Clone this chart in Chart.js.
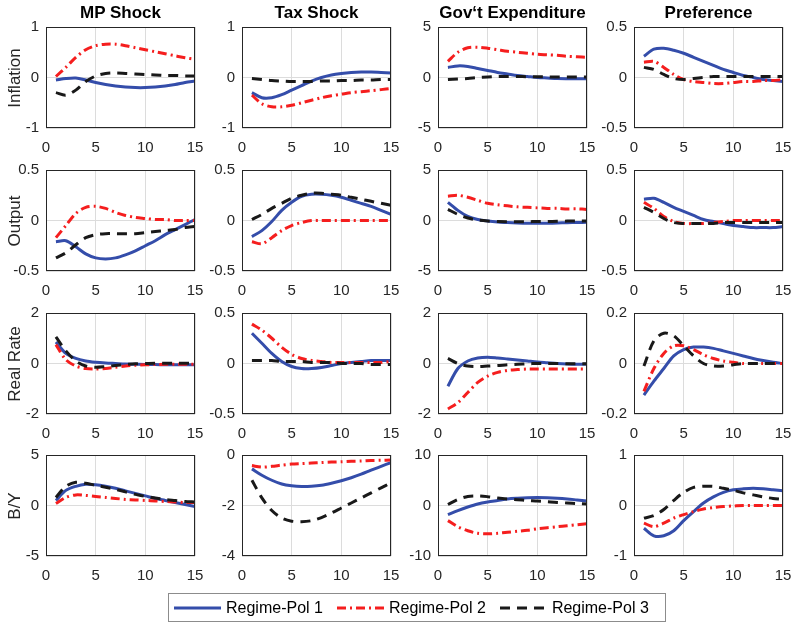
<!DOCTYPE html>
<html>
<head>
<meta charset="utf-8">
<script src="https://cdn.jsdelivr.net/npm/chart.js@4.4.1/dist/chart.umd.min.js"></script>
<style>
  body { margin: 0; background: #fff; }
  #fig { position: relative; width: 792px; height: 623px; overflow: hidden; font-family: "Liberation Sans", Arial, sans-serif; color: #262626; }
  #fig canvas { position: absolute; }
  .col-title { position: absolute; top: 3px; width: 149px; text-align: center; font-weight: bold; font-size: 17px; line-height: 20px; color: #000; }
  .row-label { position: absolute; width: 120px; height: 20px; line-height: 20px; text-align: center; font-size: 17px; transform: rotate(-90deg); white-space: nowrap; }
  #legend { position: absolute; left: 168px; top: 593px; width: 491px; height: 27px; border: 1px solid #8c8c8c; display: flex; align-items: center; padding-left: 5px; box-sizing: content-box; font-size: 16px; color: #000; }
  #legend .item { display: flex; align-items: center; margin-right: 14px; }
  #legend svg { margin-right: 5px; }
</style>
</head>
<body>
<div id="fig"></div>
<script>
const steps = [1, 2, 3, 4, 5, 6, 7, 8, 9, 10, 11, 12, 13, 14, 15];
const xTicks = [0, 5, 10, 15];
const shocks = ['MP Shock', 'Tax Shock', 'Gov\u2018t Expenditure', 'Preference'];
const variables = ['Inflation', 'Output', 'Real Rate', 'B/Y'];
const regimes = ['Regime-Pol 1', 'Regime-Pol 2', 'Regime-Pol 3'];

// y tick labels, one list per panel, row by row
const inflationTicks = [[-1, 0, 1], [-1, 0, 1], [-5, 0, 5], [-0.5, 0, 0.5]];
const outputTicks = [[-0.5, 0, 0.5], [-0.5, 0, 0.5], [-5, 0, 5], [-0.5, 0, 0.5]];
const realRateTicks = [[-2, 0, 2], [-0.5, 0, 0.5], [-2, 0, 2], [-0.2, 0, 0.2]];
const byTicks = [[-5, 0, 5], [-4, -2, 0], [-10, 0, 10], [-1, 0, 1]];

// Inflation
const inflMp1 = [-0.05, -0.02, -0.01, -0.05, -0.1, -0.14, -0.17, -0.19, -0.2, -0.2, -0.19, -0.17, -0.14, -0.1, -0.07];
const inflMp2 = [0.02, 0.2, 0.4, 0.55, 0.63, 0.66, 0.66, 0.63, 0.59, 0.55, 0.51, 0.47, 0.43, 0.39, 0.36];
const inflMp3 = [-0.3, -0.35, -0.25, -0.08, 0.03, 0.08, 0.09, 0.08, 0.07, 0.06, 0.05, 0.04, 0.04, 0.03, 0.03];
const inflTax1 = [-0.3, -0.4, -0.4, -0.34, -0.25, -0.16, -0.07, 0.0, 0.05, 0.08, 0.1, 0.11, 0.11, 0.1, 0.09];
const inflTax2 = [-0.35, -0.52, -0.58, -0.58, -0.55, -0.5, -0.45, -0.4, -0.36, -0.33, -0.3, -0.28, -0.26, -0.24, -0.22];
const inflTax3 = [-0.02, -0.04, -0.06, -0.07, -0.08, -0.08, -0.08, -0.07, -0.07, -0.06, -0.06, -0.05, -0.05, -0.04, -0.04];
const inflGov1 = [1.0, 1.15, 1.1, 0.9, 0.7, 0.5, 0.35, 0.2, 0.1, 0.0, -0.05, -0.1, -0.12, -0.13, -0.13];
const inflGov2 = [1.6, 2.5, 2.95, 3.0, 2.9, 2.75, 2.6, 2.5, 2.4, 2.3, 2.25, 2.2, 2.1, 2.05, 2.0];
const inflGov3 = [-0.2, -0.15, -0.1, 0.0, 0.05, 0.1, 0.1, 0.1, 0.08, 0.07, 0.06, 0.05, 0.05, 0.05, 0.05];
const inflPref1 = [0.21, 0.28, 0.29, 0.27, 0.24, 0.2, 0.16, 0.12, 0.08, 0.05, 0.02, 0.0, -0.02, -0.03, -0.04];
const inflPref2 = [0.15, 0.16, 0.1, 0.03, -0.02, -0.04, -0.05, -0.06, -0.06, -0.05, -0.04, -0.04, -0.03, -0.03, -0.02];
const inflPref3 = [0.1, 0.08, 0.03, -0.01, -0.02, -0.01, 0.0, 0.01, 0.01, 0.01, 0.01, 0.01, 0.01, 0.01, 0.01];

// Output
const outMp1 = [-0.21, -0.2, -0.26, -0.33, -0.37, -0.38, -0.37, -0.34, -0.3, -0.25, -0.2, -0.14, -0.09, -0.04, 0.01];
const outMp2 = [-0.17, -0.05, 0.07, 0.13, 0.14, 0.12, 0.08, 0.05, 0.03, 0.02, 0.01, 0.01, 0.0, 0.0, 0.0];
const outMp3 = [-0.37, -0.32, -0.24, -0.17, -0.14, -0.13, -0.13, -0.13, -0.13, -0.12, -0.11, -0.1, -0.09, -0.07, -0.06];
const outTax1 = [-0.16, -0.1, -0.01, 0.1, 0.18, 0.24, 0.26, 0.26, 0.25, 0.23, 0.2, 0.17, 0.14, 0.1, 0.06];
const outTax2 = [-0.21, -0.23, -0.17, -0.1, -0.05, -0.02, 0.0, 0.0, 0.0, 0.0, 0.0, 0.0, 0.0, 0.0, 0.0];
const outTax3 = [0.01, 0.06, 0.12, 0.17, 0.22, 0.25, 0.27, 0.27, 0.26, 0.25, 0.23, 0.21, 0.19, 0.17, 0.15];
const outGov1 = [1.8, 1.0, 0.4, 0.1, -0.05, -0.15, -0.2, -0.25, -0.28, -0.28, -0.27, -0.25, -0.22, -0.2, -0.18];
const outGov2 = [2.4, 2.5, 2.3, 2.0, 1.7, 1.55, 1.45, 1.35, 1.3, 1.25, 1.2, 1.2, 1.15, 1.15, 1.1];
const outGov3 = [1.1, 0.6, 0.25, 0.05, -0.05, -0.1, -0.12, -0.12, -0.12, -0.1, -0.1, -0.08, -0.06, -0.05, -0.05];
const outPref1 = [0.21, 0.22, 0.18, 0.13, 0.09, 0.05, 0.01, -0.01, -0.03, -0.05, -0.06, -0.07, -0.07, -0.07, -0.06];
const outPref2 = [0.18, 0.12, 0.04, -0.01, -0.03, -0.03, -0.03, -0.02, -0.01, 0.0, 0.0, 0.0, 0.0, 0.0, 0.0];
const outPref3 = [0.13, 0.08, 0.02, -0.02, -0.03, -0.03, -0.03, -0.03, -0.02, -0.02, -0.02, -0.02, -0.02, -0.02, -0.02];

// Real Rate
const rrMp1 = [0.85, 0.4, 0.2, 0.1, 0.05, 0.02, 0.0, -0.02, -0.03, -0.04, -0.04, -0.05, -0.05, -0.05, -0.05];
const rrMp2 = [0.75, 0.15, -0.1, -0.2, -0.22, -0.2, -0.15, -0.1, -0.07, -0.05, -0.04, -0.03, -0.03, -0.03, -0.03];
const rrMp3 = [1.05, 0.5, 0.1, -0.1, -0.15, -0.12, -0.08, -0.04, -0.01, 0.0, 0.01, 0.01, 0.01, 0.01, 0.01];
const rrTax1 = [0.3, 0.2, 0.1, 0.02, -0.03, -0.05, -0.05, -0.04, -0.02, 0.0, 0.01, 0.02, 0.03, 0.03, 0.03];
const rrTax2 = [0.39, 0.33, 0.25, 0.16, 0.09, 0.05, 0.03, 0.02, 0.01, 0.01, 0.01, 0.01, 0.01, 0.01, 0.02];
const rrTax3 = [0.03, 0.03, 0.03, 0.02, 0.02, 0.02, 0.01, 0.01, 0.01, 0.0, 0.0, 0.0, -0.01, -0.01, -0.01];
const rrGov1 = [-0.9, -0.2, 0.1, 0.22, 0.25, 0.22, 0.18, 0.14, 0.1, 0.06, 0.03, 0.0, -0.02, -0.03, -0.03];
const rrGov2 = [-1.8, -1.55, -1.15, -0.75, -0.5, -0.35, -0.27, -0.24, -0.22, -0.22, -0.22, -0.22, -0.22, -0.22, -0.22];
const rrGov3 = [0.2, 0.0, -0.1, -0.12, -0.1, -0.08, -0.05, -0.03, -0.01, 0.0, 0.0, 0.0, -0.01, -0.01, -0.01];
const rrPref1 = [-0.125, -0.07, -0.02, 0.03, 0.055, 0.065, 0.065, 0.06, 0.05, 0.04, 0.03, 0.02, 0.012, 0.005, 0.0];
const rrPref2 = [-0.11, -0.02, 0.04, 0.07, 0.07, 0.055, 0.035, 0.02, 0.01, 0.005, 0.0, 0.0, 0.0, 0.0, 0.0];
const rrPref3 = [-0.01, 0.09, 0.12, 0.11, 0.07, 0.03, 0.0, -0.01, -0.01, -0.005, 0.0, 0.0, 0.0, 0.0, 0.0];

// B/Y
const byMp1 = [0.5, 1.5, 1.9, 2.1, 2.05, 1.9, 1.7, 1.45, 1.2, 0.95, 0.7, 0.5, 0.3, 0.1, -0.1];
const byMp2 = [0.2, 0.8, 1.05, 1.0, 0.9, 0.8, 0.7, 0.6, 0.55, 0.5, 0.45, 0.4, 0.35, 0.3, 0.3];
const byMp3 = [0.8, 1.9, 2.3, 2.2, 2.0, 1.8, 1.6, 1.35, 1.1, 0.9, 0.75, 0.6, 0.5, 0.4, 0.35];
const byTax1 = [-0.55, -0.8, -1.0, -1.15, -1.22, -1.25, -1.24, -1.2, -1.12, -1.02, -0.9, -0.76, -0.6, -0.45, -0.3];
const byTax2 = [-0.42, -0.48, -0.45, -0.4, -0.36, -0.34, -0.32, -0.3, -0.28, -0.27, -0.25, -0.24, -0.22, -0.21, -0.2];
const byTax3 = [-1.0, -1.7, -2.2, -2.5, -2.62, -2.64, -2.6, -2.48, -2.3, -2.1, -1.9, -1.7, -1.5, -1.3, -1.1];
const byGov1 = [-1.8, -1.0, -0.3, 0.3, 0.7, 1.0, 1.3, 1.45, 1.55, 1.6, 1.55, 1.45, 1.3, 1.1, 0.9];
const byGov2 = [-3.0, -4.2, -5.0, -5.5, -5.6, -5.5, -5.3, -5.1, -4.9, -4.6, -4.4, -4.2, -4.0, -3.8, -3.6];
const byGov3 = [0.2, 1.2, 1.8, 1.9, 1.75, 1.5, 1.3, 1.15, 1.0, 0.9, 0.75, 0.6, 0.5, 0.4, 0.3];
const byPref1 = [-0.45, -0.6, -0.6, -0.5, -0.3, -0.12, 0.05, 0.17, 0.26, 0.31, 0.33, 0.34, 0.33, 0.31, 0.29];
const byPref2 = [-0.35, -0.42, -0.35, -0.25, -0.18, -0.12, -0.07, -0.04, -0.02, -0.01, 0.0, 0.0, 0.0, 0.0, 0.0];
const byPref3 = [-0.25, -0.2, -0.08, 0.1, 0.26, 0.36, 0.38, 0.38, 0.34, 0.3, 0.25, 0.21, 0.17, 0.14, 0.12];

const panels = [
    [[inflMp1, inflMp2, inflMp3], [inflTax1, inflTax2, inflTax3], [inflGov1, inflGov2, inflGov3], [inflPref1, inflPref2, inflPref3]],
    [[outMp1, outMp2, outMp3], [outTax1, outTax2, outTax3], [outGov1, outGov2, outGov3], [outPref1, outPref2, outPref3]],
    [[rrMp1, rrMp2, rrMp3], [rrTax1, rrTax2, rrTax3], [rrGov1, rrGov2, rrGov3], [rrPref1, rrPref2, rrPref3]],
    [[byMp1, byMp2, byMp3], [byTax1, byTax2, byTax3], [byGov1, byGov2, byGov3], [byPref1, byPref2, byPref3]]
];
const rowTicks = [inflationTicks, outputTicks, realRateTicks, byTicks];

const colors = ['rgb(52, 77, 170)', 'rgb(245, 30, 30)', 'rgb(25, 25, 25)'];
const dashes = [[], [9, 4, 2, 4], [10, 7]];

const plotLeft = [46, 242, 438, 634];
const plotTop = [27, 170, 313, 455];
const PLOT_W = 149, PLOT_H = 101;
const PAD_L = 46, PAD_T = 12, PAD_R = 14, PAD_B = 32;
const FONT = '"Liberation Sans", Arial, sans-serif';

const fig = document.getElementById('fig');

const boxPlugin = {
    id: 'box',
    afterDraw(chart) {
        const { ctx, chartArea: a } = chart;
        ctx.save();
        ctx.strokeStyle = '#262626';
        ctx.lineWidth = 1;
        ctx.strokeRect(Math.round(a.left) + 0.5, Math.round(a.top) + 0.5, Math.round(a.right - a.left) - 1, Math.round(a.bottom - a.top) - 1);
        ctx.restore();
    }
};

function makePanel(row, col) {
    const canvas = document.createElement('canvas');
    canvas.width = PAD_L + PLOT_W + PAD_R;
    canvas.height = PAD_T + PLOT_H + PAD_B;
    canvas.style.left = (plotLeft[col] - PAD_L) + 'px';
    canvas.style.top = (plotTop[row] - PAD_T) + 'px';
    fig.appendChild(canvas);

    const yTicks = rowTicks[row][col];
    const series = panels[row][col];

    new Chart(canvas.getContext('2d'), {
        type: 'line',
        data: {
            labels: steps,
            datasets: series.map((vals, i) => ({
                label: regimes[i],
                data: vals.map((v, k) => ({ x: steps[k], y: v })),
                borderColor: colors[i],
                borderWidth: 3,
                borderDash: dashes[i],
                pointRadius: 0,
                tension: 0.3,
                fill: false,
                order: 3 - i
            }))
        },
        options: {
            responsive: false,
            animation: false,
            events: [],
            layout: { padding: { left: 0, top: PAD_T, right: PAD_R, bottom: 0 } },
            plugins: { legend: { display: false }, tooltip: { enabled: false } },
            scales: {
                x: {
                    type: 'linear',
                    min: 0,
                    max: 15,
                    afterBuildTicks: s => { s.ticks = xTicks.map(v => ({ value: v })); },
                    afterFit: s => { s.height = PAD_B; s.paddingLeft = 0; s.paddingRight = 0; },
                    grid: { color: '#dcdcdc', drawTicks: false },
                    border: { display: false },
                    ticks: { padding: 11, color: '#262626', font: { family: FONT, size: 15 }, maxRotation: 0 }
                },
                y: {
                    min: yTicks[0],
                    max: yTicks[yTicks.length - 1],
                    afterBuildTicks: s => { s.ticks = yTicks.map(v => ({ value: v })); },
                    afterFit: s => { s.width = PAD_L; s.paddingTop = 0; s.paddingBottom = 0; },
                    grid: { color: '#dcdcdc', drawTicks: false },
                    border: { display: false },
                    ticks: { padding: 7, color: '#262626', font: { family: FONT, size: 15 }, callback: v => String(v) }
                }
            }
        },
        plugins: [boxPlugin]
    });
}

function addTitles() {
    shocks.forEach((name, col) => {
        const el = document.createElement('div');
        el.className = 'col-title';
        el.style.left = plotLeft[col] + 'px';
        el.textContent = name;
        fig.appendChild(el);
    });
    variables.forEach((name, row) => {
        const el = document.createElement('div');
        el.className = 'row-label';
        el.style.left = (15 - 60) + 'px';
        el.style.top = (plotTop[row] + PLOT_H / 2 - 10) + 'px';
        el.textContent = name;
        fig.appendChild(el);
    });
}

function addLegend() {
    const box = document.createElement('div');
    box.id = 'legend';
    regimes.forEach((name, i) => {
        const item = document.createElement('div');
        item.className = 'item';
        const dash = dashes[i].length ? ` stroke-dasharray="${dashes[i].join(' ')}"` : '';
        item.innerHTML = `<svg width="47" height="10"><line x1="0" y1="5" x2="47" y2="5" stroke="${colors[i]}" stroke-width="3"${dash}/></svg><span>${name}</span>`;
        box.appendChild(item);
    });
    fig.appendChild(box);
}

for (let r = 0; r < 4; r++) {
    for (let c = 0; c < 4; c++) makePanel(r, c);
}
addTitles();
addLegend();
</script>
</body>
</html>
